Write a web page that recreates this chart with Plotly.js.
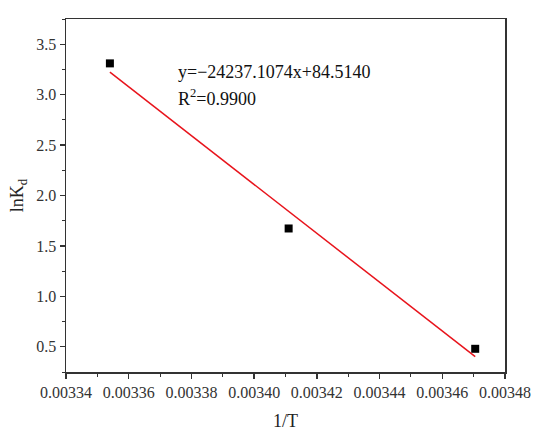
<!DOCTYPE html>
<html>
<head>
<meta charset="utf-8">
<script src="https://cdn.plot.ly/plotly-3.0.1.min.js"></script>
<style>html,body{margin:0;padding:0;background:#fff;}#chart{width:550px;height:436px;}</style>
</head>
<body>
<div id="chart"></div>
<script>
// Data
var invT = [0.003354, 0.003411, 0.0034705];
var lnKd = [3.31, 1.673, 0.48];
var fitX = [0.003354, 0.0034705];
var fitY = [3.223, 0.402];
var eqText = "y=\u221224237.1074x+84.5140";
var r2Text = "R<sup>2</sup>=0.9900";

var font = "'Liberation Serif', 'Times New Roman', Times, serif";

var traces = [
  {x: invT, y: lnKd, type: "scatter", mode: "markers",
   marker: {symbol: "square", size: 8, color: "#000"}, showlegend: false, cliponaxis: false},
  {x: fitX, y: fitY, type: "scatter", mode: "lines",
   line: {color: "#e8141c", width: 1.5}, showlegend: false}
];

var layout = {
  width: 550, height: 436,
  margin: {l: 66, r: 45, t: 19, b: 64},
  paper_bgcolor: "#fff", plot_bgcolor: "#fff",
  font: {family: font, size: 16, color: "#222"},
  xaxis: {
    range: [0.00334, 0.00348], tick0: 0.00334, dtick: 0.00002,
    tickformat: ".5f", showgrid: false, zeroline: false,
    showline: true, linecolor: "#333", linewidth: 1.5, mirror: true,
    ticks: "outside", ticklen: 5, tickwidth: 1.3, tickcolor: "#333",
    minor: {dtick: 0.00001, ticks: "outside", ticklen: 3, tickcolor: "#333", tickwidth: 1, showgrid: false},
    tickfont: {family: font, size: 16, color: "#333"},
    title: {text: "1/T", font: {family: font, size: 18, color: "#222"}, standoff: 14}
  },
  yaxis: {
    range: [0.25, 3.75], tick0: 0.5, dtick: 0.5,
    tickformat: ".1f", showgrid: false, zeroline: false,
    showline: true, linecolor: "#333", linewidth: 1.5, mirror: true,
    ticks: "outside", ticklen: 5, tickwidth: 1.3, tickcolor: "#333",
    minor: {dtick: 0.25, ticks: "outside", ticklen: 3, tickcolor: "#333", tickwidth: 1, showgrid: false},
    tickfont: {family: font, size: 16, color: "#333"},
    title: {text: "lnK<sub>d</sub>", font: {family: font, size: 18, color: "#222"}, standoff: 8}
  },
  annotations: [
    {xref: "paper", yref: "paper", x: (176 - 66) / 439, y: (372 - 72) / 353, xanchor: "left", yanchor: "middle",
     text: eqText, showarrow: false, font: {family: font, size: 18, color: "#111"}},
    {xref: "paper", yref: "paper", x: (176 - 66) / 439, y: (372 - 98) / 353, xanchor: "left", yanchor: "middle",
     text: r2Text, showarrow: false, font: {family: font, size: 18, color: "#111"}}
  ]
};

Plotly.newPlot("chart", traces, layout, {displayModeBar: false, staticPlot: true});
</script>
</body>
</html>
